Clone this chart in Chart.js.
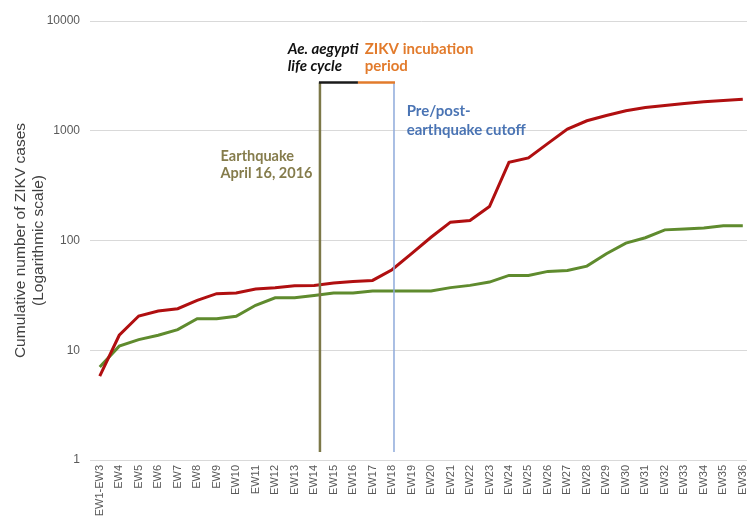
<!DOCTYPE html>
<html>
<head>
<meta charset="utf-8">
<script src="https://cdn.jsdelivr.net/npm/chart.js@4.4.1/dist/chart.umd.min.js"></script>
<style>
  html, body { margin: 0; padding: 0; background: #fff; overflow: hidden; }
  #wrap { width: 761px; height: 522px; }
</style>
</head>
<body>
<div id="wrap"><canvas id="zikvChart"></canvas></div>
<script>
// epidemiological weeks
const weeks = ['EW1-EW3', 'EW4', 'EW5', 'EW6', 'EW7', 'EW8', 'EW9', 'EW10', 'EW11', 'EW12',
    'EW13', 'EW14', 'EW15', 'EW16', 'EW17', 'EW18', 'EW19', 'EW20', 'EW21', 'EW22',
    'EW23', 'EW24', 'EW25', 'EW26', 'EW27', 'EW28', 'EW29', 'EW30', 'EW31', 'EW32',
    'EW33', 'EW34', 'EW35', 'EW36'];

// cumulative ZIKV cases
const casesRed = [5.8, 13.7, 20.5, 22.8, 23.9, 28.5, 32.8, 33.2, 36.1, 37.2,
    38.7, 39, 40.9, 42.4, 43.3, 54.2, 76, 107, 147, 152,
    204, 515, 565, 767, 1036, 1233, 1377, 1520, 1630, 1700,
    1771, 1835, 1885, 1940];
const casesGreen = [7.05, 10.9, 12.5, 13.7, 15.4, 19.4, 19.4, 20.4, 25.7, 30.1,
    30.1, 31.6, 33.2, 33.2, 34.6, 34.6, 34.6, 34.6, 37.2, 39,
    41.8, 48.1, 48.1, 52.3, 53.4, 58.4, 75.7, 94.6, 106, 125,
    127, 130, 136, 136];

const yTicks = [1, 10, 100, 1000, 10000];

// marker positions in data terms (category index, case count)
const quakeIdx = 11.3;
const lifeCycleEndIdx = 13.25;
const cutoffIdx = 15.1;
const markerLow = 1.18;
const markerHigh = 2750;

const notes = [
    { lines: ['Earthquake', 'April 16, 2016'], idx: 6.2, value: 590, color: '#857c4c', italic: false, lh: 17.5, size: 14.5 },
    { lines: ['Ae. aegypti', 'life cycle'], idx: 9.65, value: 5560, color: '#111111', italic: true, lh: 17, size: 15 },
    { lines: ['ZIKV incubation', 'period'], idx: 13.6, value: 5560, color: '#e27b2c', italic: false, lh: 17, size: 15 },
    { lines: ['Pre/post-', 'earthquake cutoff'], idx: 15.75, value: 1520, color: '#4a74b4', italic: false, lh: 19, size: 15 }
];

const markerPlugin = {
    id: 'markers',
    afterDatasetsDraw(chart) {
        const ctx = chart.ctx;
        const xs = chart.scales.x;
        const ys = chart.scales.y;
        const xq = xs.getPixelForValue(quakeIdx);
        const xl = xs.getPixelForValue(lifeCycleEndIdx);
        const xc = xs.getPixelForValue(cutoffIdx);
        const yLo = ys.getPixelForValue(markerLow);
        const yHi = ys.getPixelForValue(markerHigh);

        ctx.save();
        ctx.lineCap = 'butt';
        // pre/post cutoff
        ctx.strokeStyle = '#8eaadb';
        ctx.lineWidth = 1.5;
        ctx.beginPath();
        ctx.moveTo(xc, yLo);
        ctx.lineTo(xc, yHi);
        ctx.stroke();
        // earthquake
        ctx.strokeStyle = '#7c7848';
        ctx.lineWidth = 2.5;
        ctx.beginPath();
        ctx.moveTo(xq, yLo);
        ctx.lineTo(xq, yHi);
        ctx.stroke();
        // life cycle + incubation bracket
        ctx.strokeStyle = '#1a1a1a';
        ctx.lineWidth = 2.5;
        ctx.beginPath();
        ctx.moveTo(xq - 1, yHi);
        ctx.lineTo(xl, yHi);
        ctx.stroke();
        ctx.strokeStyle = '#e27b2c';
        ctx.beginPath();
        ctx.moveTo(xl, yHi);
        ctx.lineTo(xc + 1, yHi);
        ctx.stroke();

        ctx.textAlign = 'left';
        ctx.textBaseline = 'middle';
        notes.forEach(n => {
            ctx.font = (n.italic ? 'italic ' : '') + 'bold ' + n.size + 'px Lato, "Noto Sans", sans-serif';
            ctx.fillStyle = n.color;
            const x = xs.getPixelForValue(n.idx);
            const y = ys.getPixelForValue(n.value);
            n.lines.forEach((t, k) => ctx.fillText(t, x, y + k * n.lh));
        });
        ctx.restore();
    }
};

const ctx = document.getElementById('zikvChart').getContext('2d');
new Chart(ctx, {
    type: 'line',
    data: {
        labels: weeks,
        datasets: [
            {
                label: 'Red series',
                data: casesRed,
                borderColor: '#b00f10',
                borderWidth: 3,
                pointRadius: 0,
                tension: 0,
                fill: false
            },
            {
                label: 'Green series',
                data: casesGreen,
                borderColor: '#5f8b2e',
                borderWidth: 3,
                pointRadius: 0,
                tension: 0,
                fill: false
            }
        ]
    },
    options: {
        responsive: true,
        maintainAspectRatio: false,
        animation: false,
        layout: { padding: { top: 21, right: 0, bottom: 0, left: 0 } },
        plugins: {
            legend: { display: false },
            tooltip: { enabled: false }
        },
        scales: {
            x: {
                offset: true,
                grid: { display: false, drawTicks: false },
                border: { color: '#d9d9d9' },
                ticks: {
                    autoSkip: false,
                    minRotation: 90,
                    maxRotation: 90,
                    padding: 5,
                    color: '#595959',
                    font: { family: '"Liberation Sans", Arial, sans-serif', size: 11 }
                },
                afterFit: axis => { axis.height = 62; }
            },
            y: {
                type: 'logarithmic',
                min: 1,
                max: 10000,
                afterBuildTicks: axis => { axis.ticks = yTicks.map(v => ({ value: v })); },
                grid: { color: '#d9d9d9', drawTicks: false },
                border: { display: false },
                ticks: {
                    padding: 10,
                    color: '#595959',
                    font: { family: '"Liberation Sans", Arial, sans-serif', size: 12 },
                    callback: v => String(v)
                },
                title: {
                    display: true,
                    text: ['Cumulative number of ZIKV cases', '(Logarithmic scale)'],
                    color: '#404040',
                    font: { family: '"Liberation Sans", Arial, sans-serif', size: 15.5 },
                    padding: { top: 11, bottom: 0 }
                },
                afterFit: axis => { axis.width = 90; }
            }
        }
    },
    plugins: [markerPlugin]
});
</script>
</body>
</html>
